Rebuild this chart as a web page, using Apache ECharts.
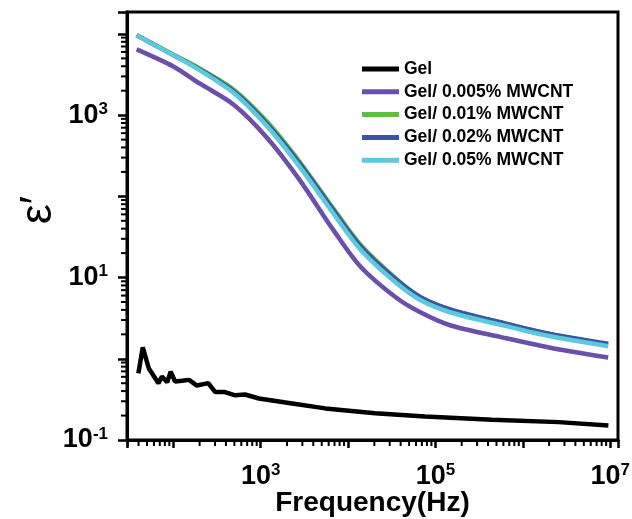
<!DOCTYPE html>
<html>
<head>
<meta charset="utf-8">
<script src="https://cdn.jsdelivr.net/npm/echarts@6/dist/echarts.min.js"></script>
<style>
html,body{margin:0;padding:0;background:#fff;}
#c{width:632px;height:519px;}
</style>
</head>
<body>
<div id="c"></div>
<script>
// ---------- data ----------
const seriesNames = ['Gel', 'Gel/ 0.005% MWCNT', 'Gel/ 0.01% MWCNT', 'Gel/ 0.02% MWCNT', 'Gel/ 0.05% MWCNT'];
const seriesColors = ['#000000', '#6a4fab', '#5dbd45', '#3a55a6', '#5cc9dd'];

// frequency grid (Hz) for the MWCNT curves
const freqMain = [38, 100, 200, 500, 1200, 2800, 6800, 14000, 36000, 68000, 150000, 550000, 2.0e6, 9.5e6];
const eps005 = [6457, 3981, 2455, 1327, 516.4, 158.5, 38.37, 13.49, 5.60, 3.715, 2.57, 1.862, 1.380, 1.038];
const eps01  = [9660, 5559, 3750, 2028, 814.7, 264.8, 70.63, 25.12, 9.55, 5.75, 4.03, 2.82, 2.02, 1.496];
const eps02  = [9660, 5495, 3664, 1936, 769.1, 252.9, 67.45, 23.99, 9.33, 5.69, 4.03, 2.82, 2.04, 1.53];
const eps05  = [9660, 5495, 3581, 1849, 717.8, 230.7, 61.5, 21.88, 8.51, 5.25, 3.715, 2.63, 1.905, 1.429];

// pure gel (noisy at low frequency)
const freqGel = [39.8, 44.7, 52.5, 67.6, 74.1, 85.1, 93.3, 104.7, 125.9, 151.4, 186.2, 251.2, 302, 389, 513, 661, 955, 2291, 5495, 20417, 75858, 446684, 2.57e6, 9.55e6];
const epsGel  = [0.661, 1.38, 0.759, 0.501, 0.603, 0.513, 0.692, 0.525, 0.537, 0.550, 0.468, 0.501, 0.389, 0.389, 0.355, 0.363, 0.324, 0.282, 0.245, 0.214, 0.195, 0.178, 0.166, 0.151];

// axis ranges
const xMin = 29.5, xMax = 1.23e7;
const yMin = 0.1, yMax = 18620;

// minor tick values (2..9 per decade)
const minorMult = [2, 3, 4, 5, 6, 7, 8, 9];
const xDecades = [1, 10, 100, 1e3, 1e4, 1e5, 1e6, 1e7];
const yDecades = [0.1, 1, 10, 100, 1e3, 1e4];

// ---------- chart ----------
const FONT = '"Liberation Sans", Arial, Helvetica, sans-serif';
function zip(xs, ys) { return xs.map((x, i) => [x, ys[i]]); }
function supLabel(v) {
  const e = Math.log10(v);
  const r = Math.round(e);
  if (Math.abs(e - r) > 1e-6) return '';
  if (Math.abs(r) % 2 !== 1) return '';
  return '{b|10}{s|' + (r < 0 ? '-' + (-r) : r) + '}';
}
const rich = {
  b: { fontSize: 27, fontWeight: 'bold', color: '#000', fontFamily: FONT },
  s: { fontSize: 17, fontWeight: 'bold', color: '#000', fontFamily: FONT, verticalAlign: 'bottom', padding: [0, 0, 12, 0] }
};

const xMinorVals = [];
xDecades.forEach(d => minorMult.forEach(m => { const v = m * d; if (v > xMin && v < xMax) xMinorVals.push([v, 0]); }));
const yMinorVals = [];
yDecades.forEach(d => minorMult.forEach(m => { const v = m * d; if (v > yMin && v < yMax) yMinorVals.push([0, v]); }));

const chart = echarts.init(document.getElementById('c'), null, { renderer: 'canvas' });

const datasets = [zip(freqGel, epsGel), zip(freqMain, eps005), zip(freqMain, eps01), zip(freqMain, eps02), zip(freqMain, eps05)];

// minor ticks live in thin helper grids just outside the plot, sharing the log ranges
function xTick(params, api) {
  const a = api.coord([api.value(0), 1]);
  const b = api.coord([api.value(0), 0]);
  return { type: 'rect', shape: { x: a[0] - 1, y: a[1], width: 2, height: b[1] - a[1] }, style: { fill: '#000' } };
}
function yTick(params, api) {
  const a = api.coord([0, api.value(1)]);
  const b = api.coord([1, api.value(1)]);
  return { type: 'rect', shape: { x: a[0], y: a[1] - 1, width: b[0] - a[0], height: 2 }, style: { fill: '#000' } };
}

const lineSeries = seriesNames.map((name, i) => ({
  name: name, type: 'line', data: datasets[i], showSymbol: false, symbol: 'none',
  smooth: i === 0 ? false : 0.3,
  lineStyle: { color: seriesColors[i], width: 4.5 },
  itemStyle: { color: seriesColors[i] }, z: 2 + i
}));

const hiddenAxis = { show: false, axisLine: { show: false }, axisTick: { show: false }, axisLabel: { show: false }, splitLine: { show: false } };

const option = {
  animation: false,
  backgroundColor: '#fff',
  grid: [
    { left: 127, right: 14, top: 12, bottom: 79, show: true, borderColor: '#000', borderWidth: 3, containLabel: false, outerBoundsMode: 'none' },
    { left: 127, right: 14, top: 440, height: 6, containLabel: false, outerBoundsMode: 'none' },
    { left: 121, width: 6, top: 12, bottom: 79, containLabel: false, outerBoundsMode: 'none' }
  ],
  legend: {
    orient: 'vertical', left: 362, top: 60, padding: 0, itemWidth: 37, itemHeight: 5, itemGap: 4.8,
    icon: 'rect',
    textStyle: { fontSize: 17.5, fontWeight: 'bold', color: '#000', fontFamily: FONT },
    data: seriesNames
  },
  xAxis: [{
    type: 'log', logBase: 10, min: xMin, max: xMax, gridIndex: 0,
    name: 'Frequency(Hz)', nameLocation: 'middle', nameGap: 49, nameMoveOverlap: false,
    nameTextStyle: { fontSize: 28, fontWeight: 'bold', color: '#000', fontFamily: FONT },
    axisLine: { lineStyle: { color: '#000', width: 3 } },
    axisTick: { show: true, length: 8, lineStyle: { color: '#000', width: 2.5 } },
    axisLabel: { margin: 22, formatter: supLabel, rich: rich, color: '#000' },
    splitLine: { show: false }
  },
  Object.assign({ type: 'log', logBase: 10, min: xMin, max: xMax, gridIndex: 1 }, hiddenAxis),
  Object.assign({ type: 'value', min: 0, max: 1, gridIndex: 2 }, hiddenAxis)
  ],
  yAxis: [{
    type: 'log', logBase: 10, min: yMin, max: yMax, gridIndex: 0,
    name: 'ε′', nameLocation: 'middle', nameGap: 66, nameRotate: 90, nameMoveOverlap: false,
    nameTextStyle: { fontSize: 45, fontWeight: 'normal', color: '#000', fontFamily: FONT, padding: [0, 0, 0, 32] },
    axisLine: { lineStyle: { color: '#000', width: 3 } },
    axisTick: { show: true, length: 9, lineStyle: { color: '#000', width: 2.5 } },
    axisLabel: { margin: 19, formatter: supLabel, rich: rich, color: '#000' },
    splitLine: { show: false }
  },
  Object.assign({ type: 'value', min: 0, max: 1, gridIndex: 1 }, hiddenAxis),
  Object.assign({ type: 'log', logBase: 10, min: yMin, max: yMax, gridIndex: 2 }, hiddenAxis)
  ],
  series: lineSeries.concat([
    { type: 'custom', name: 'xMinor', xAxisIndex: 1, yAxisIndex: 1, data: xMinorVals, renderItem: xTick, clip: false, silent: true, z: 20 },
    { type: 'custom', name: 'yMinor', xAxisIndex: 2, yAxisIndex: 2, data: yMinorVals, renderItem: yTick, clip: false, silent: true, z: 20 }
  ])
};
chart.setOption(option);
</script>
</body>
</html>
